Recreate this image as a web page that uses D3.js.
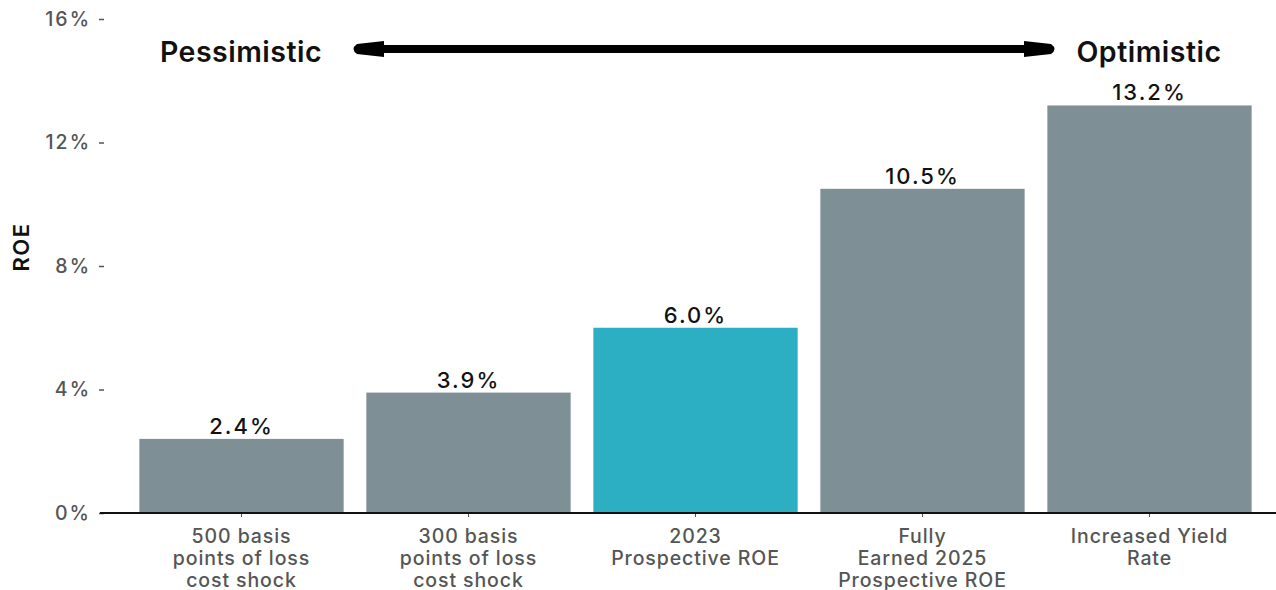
<!DOCTYPE html>
<html>
<head>
<meta charset="utf-8">
<script src="https://cdn.jsdelivr.net/npm/d3@7"></script>
<style>
  html, body { margin: 0; padding: 0; background: #fff; }
  svg { display: block; font-family: Inter, "Liberation Sans", Arial, sans-serif; }
</style>
</head>
<body>
<svg id="chart" width="1276" height="590"></svg>
<script>
// Scenario categories (each label line separated)
const categories = [
  ["500 basis", "points of loss", "cost shock"],
  ["300 basis", "points of loss", "cost shock"],
  ["2023", "Prospective ROE"],
  ["Fully", "Earned 2025", "Prospective ROE"],
  ["Increased Yield", "Rate"]
];
// ROE values in percent
const roeValues = [2.4, 3.9, 6.0, 10.5, 13.2];
// Which scenario is the current baseline
const highlight = [false, false, true, false, false];
// Y-axis ticks
const yTicks = [0, 4, 8, 12, 16];

const svg = d3.select("#chart");
const W = 1276, H = 590;

const ids = categories.map((c, i) => i);

const x = d3.scaleBand()
  .domain(ids)
  .range([105.3, 1285.7])
  .paddingInner(0.1)
  .paddingOuter(0.15);

const y = d3.scaleLinear()
  .domain([0, 16])
  .range([513, 19]);

// Bars
svg.append("g")
  .selectAll("rect")
  .data(roeValues)
  .join("rect")
  .attr("x", (d, i) => x(i))
  .attr("y", d => y(d))
  .attr("width", x.bandwidth())
  .attr("height", d => y(0) - y(d))
  .attr("fill", (d, i) => highlight[i] ? "#2CAFC3" : "#7F8F96");

// Value labels
svg.append("g")
  .selectAll("text")
  .data(roeValues)
  .join("text")
  .attr("x", (d, i) => x(i) + x.bandwidth() / 2)
  .attr("y", d => y(d) - 5)
  .attr("text-anchor", "middle")
  .attr("font-size", 22)
  .attr("font-weight", 500)
  .attr("letter-spacing", 2)
  .attr("fill", "#111")
  .text(d => d.toFixed(1) + "%");

// Y axis (ticks and labels only)
const yAxis = d3.axisLeft(y)
  .tickValues(yTicks)
  .tickFormat(d => d + "%")
  .tickSize(5)
  .tickPadding(8);

const gy = svg.append("g")
  .attr("transform", "translate(104,0)")
  .call(yAxis);
gy.select(".domain").remove();
gy.selectAll(".tick line").attr("stroke", "#555").attr("stroke-width", 1.5);
gy.selectAll(".tick text")
  .attr("font-size", 19.5)
  .attr("font-weight", 500)
  .attr("letter-spacing", 2)
  .attr("fill", "#555")
  .attr("font-family", "Inter, Liberation Sans, Arial, sans-serif");

// X axis
const xAxis = d3.axisBottom(x).tickSize(4).tickFormat("");
const gx = svg.append("g")
  .attr("transform", `translate(0,${y(0)})`)
  .call(xAxis);
gx.select(".domain").remove();
gx.selectAll(".tick line").attr("stroke", "#555");

svg.append("line")
  .attr("x1", 100).attr("x2", W)
  .attr("y1", y(0)).attr("y2", y(0))
  .attr("stroke", "#111")
  .attr("stroke-width", 2);

// Category labels
const catG = svg.append("g")
  .selectAll("text")
  .data(categories)
  .join("text")
  .attr("x", (d, i) => x(i) + x.bandwidth() / 2)
  .attr("y", y(0) + 30)
  .attr("text-anchor", "middle")
  .attr("font-size", 19.5)
  .attr("font-weight", 500)
  .attr("letter-spacing", 0.9)
  .attr("fill", "#555");
catG.selectAll("tspan")
  .data(d => d)
  .join("tspan")
  .attr("x", function() { return this.parentNode.getAttribute("x"); })
  .attr("dy", (d, j) => j === 0 ? 0 : 22)
  .text(d => d);

// Y axis title
svg.append("text")
  .attr("transform", `translate(29,${(y(0) + y(16)) / 2 - 19}) rotate(-90)`)
  .attr("text-anchor", "middle")
  .attr("font-size", 22)
  .attr("font-weight", 600)
  .attr("letter-spacing", 1.5)
  .attr("fill", "#111")
  .text("ROE");

// Pessimistic / Optimistic annotation
svg.append("text")
  .attr("x", 241).attr("y", 62)
  .attr("text-anchor", "middle")
  .attr("font-size", 28.5)
  .attr("font-weight", 600)
  .attr("letter-spacing", 0.5)
  .attr("fill", "#111")
  .text("Pessimistic");

svg.append("text")
  .attr("x", 1149).attr("y", 62)
  .attr("text-anchor", "middle")
  .attr("font-size", 28.5)
  .attr("font-weight", 600)
  .attr("letter-spacing", 0.5)
  .attr("fill", "#111")
  .text("Optimistic");

// Double-headed arrow between the two labels
const ay = 49;
svg.append("line")
  .attr("x1", 375).attr("x2", 1035)
  .attr("y1", ay).attr("y2", ay)
  .attr("stroke", "#000")
  .attr("stroke-width", 8);

const head = (tip, base) => {
  const dir = Math.sign(base - tip);
  return `M${base},${ay - 8} L${tip + dir * 7},${ay - 5} Q${tip},${ay} ${tip + dir * 7},${ay + 5} L${base},${ay + 8} Z`;
};
svg.append("path").attr("d", head(350, 384)).attr("fill", "#000");
svg.append("path").attr("d", head(1058, 1024)).attr("fill", "#000");
</script>
</body>
</html>
